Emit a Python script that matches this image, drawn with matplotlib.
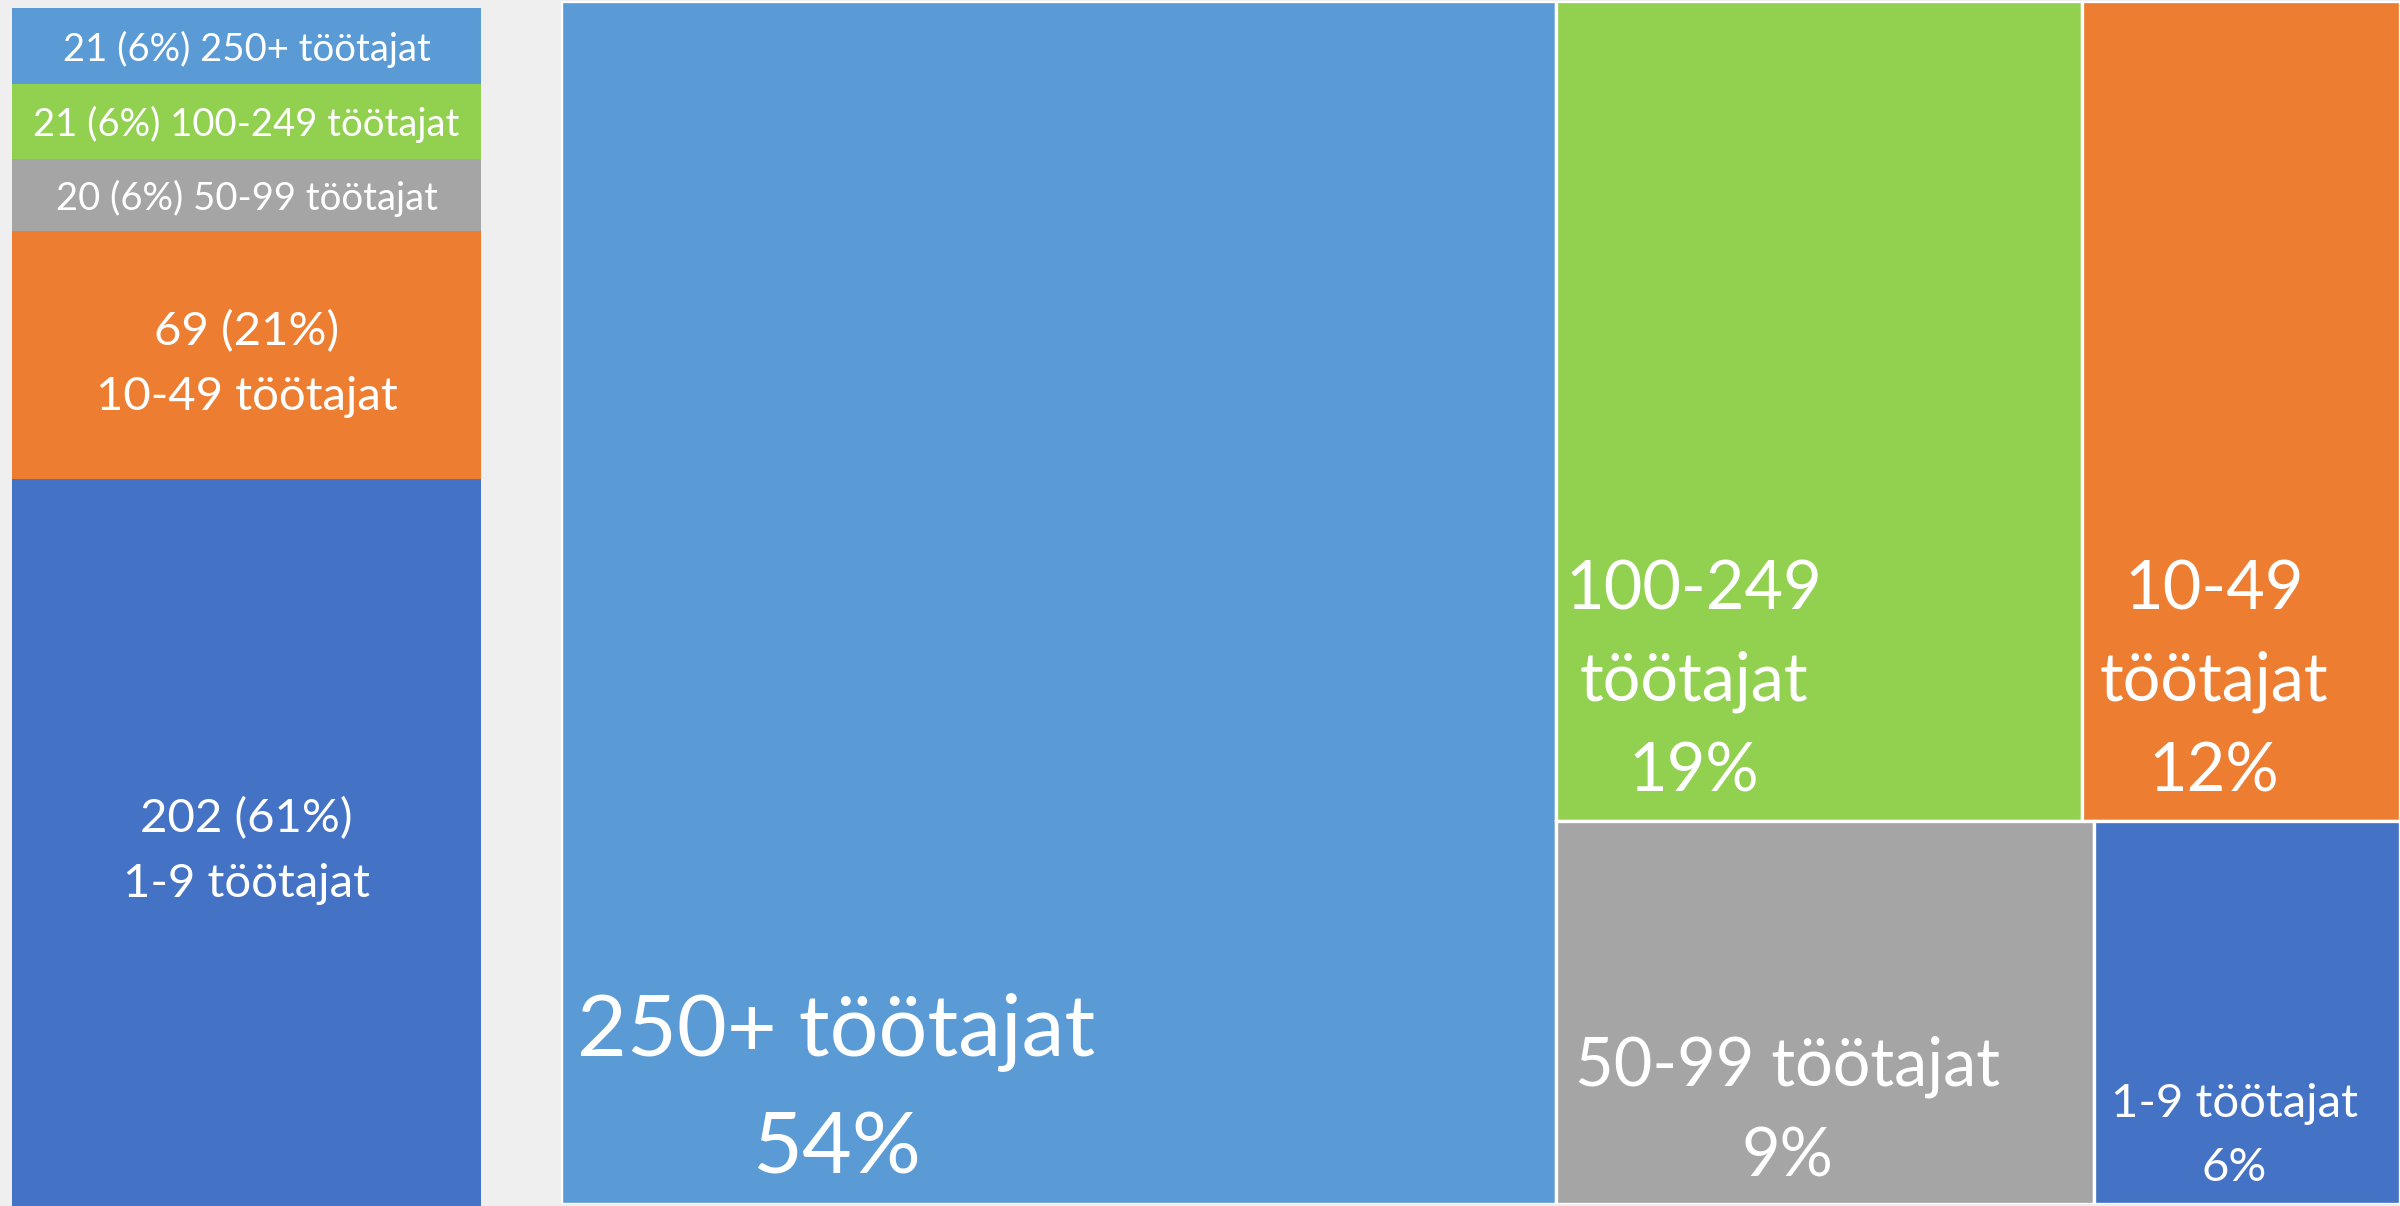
import numpy as np
import matplotlib.pyplot as plt
from matplotlib.patches import Rectangle

plt.rcParams['font.family'] = ['Lato', 'DejaVu Sans']

# left stacked bar: number of companies by size
bar_counts = [21, 21, 20, 69, 202]
bar_labels = [["21 (6%) 250+ töötajat"], ["21 (6%) 100-249 töötajat"], ["20 (6%) 50-99 töötajat"],
              ["69 (21%)", "10-49 töötajat"], ["202 (61%)", "1-9 töötajat"]]
bar_colors = ['#5B9BD5', '#92D050', '#A5A5A5', '#ED7D31', '#4472C4']

# treemap: share (%) by size group
tm_values = [54.1, 19.5, 11.8, 9.3, 5.3]
tm_labels = [["250+ töötajat", "54%"], ["100-249", "töötajat", "19%"], ["10-49", "töötajat", "12%"],
             ["50-99 töötajat", "9%"], ["1-9 töötajat", "6%"]]
tm_colors = ['#5B9BD5', '#92D050', '#ED7D31', '#A5A5A5', '#4472C4']


def treemap_layout(values, w, h):
    # biggest item as full-height column, the rest in rows of two
    total = sum(values)
    col_w = w * values[0] / total
    rects = [(0, 0, col_w, h)]
    rest = values[1:]
    y = 0
    for i in range(0, len(rest), 2):
        row = rest[i:i + 2]
        row_h = h * sum(row) / sum(rest)
        x = col_w
        for v in row:
            rw = (w - col_w) * v / sum(row)
            rects.append((x, y, rw, row_h))
            x += rw
        y += row_h
    return rects


def put_lines(ax, x, y, lines, size, gap, shift=0):
    n = len(lines)
    for i, s in enumerate(lines):
        off = (i - (n - 1) / 2) * gap + shift
        ax.annotate(s, (x, y), xytext=(0, -off), textcoords='offset points',
                    ha='center', va='center_baseline', color='white', fontsize=size)


fig = plt.figure(figsize=(24, 12.06), dpi=100, facecolor='#EFEFEF')

# ---- stacked bar
axb = fig.add_axes([12 / 2400, 0, 469 / 2400, 1198 / 1206])
bottoms = np.concatenate([[0], np.cumsum(bar_counts)[:-1]])
axb.bar(0, bar_counts, bottom=bottoms, width=1, color=bar_colors, linewidth=0)
axb.set_xlim(-0.5, 0.5)
axb.set_ylim(sum(bar_counts), 0)
axb.axis('off')
for b, c, lab in zip(bottoms, bar_counts, bar_labels):
    if len(lab) == 1:
        put_lines(axb, 0, b + c / 2, lab, 27.5, 0)
    else:
        put_lines(axb, 0, b + c / 2, lab, 34, 47, shift=3.5)

# ---- treemap
tm_pos = [561 / 2400, 2 / 1206, 1839 / 2400, 1203 / 1206]
axt = fig.add_axes(tm_pos)
W, H = 2400 * tm_pos[2], 1206 * tm_pos[3]
axt.set_xlim(0, W)
axt.set_ylim(H, 0)
axt.axis('off')

# label block centre inside each tile (fraction), font size, line gap (pt)
lab_pos = [(0.277, 0.899, 62, 85), (0.263, 0.822, 48, 65.5), (0.415, 0.822, 48, 65.5),
           (0.43, 0.744, 48, 66), (0.46, 0.812, 34, 46)]

for (x, y, w, h), col, lab, (fx, fy, fs, gap) in zip(treemap_layout(tm_values, W, H),
                                                     tm_colors, tm_labels, lab_pos):
    axt.add_patch(Rectangle((x, y), w, h, facecolor=col, edgecolor='white', linewidth=2.4))
    put_lines(axt, x + fx * w, y + fy * h, lab, fs, gap)

fig.savefig('out.png', dpi=100, facecolor=fig.get_facecolor())
